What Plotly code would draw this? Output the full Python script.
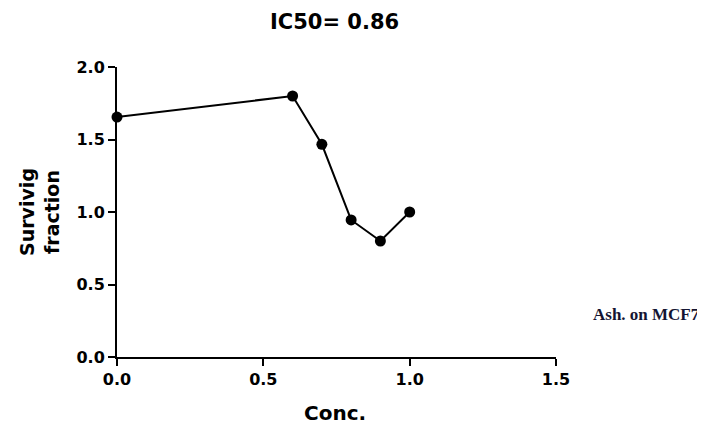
import plotly.graph_objects as go

conc = [0.0, 0.6, 0.7, 0.8, 0.9, 1.0]
surviving = [1.655, 1.80, 1.467, 0.945, 0.80, 1.0]
x_ticks = [0.0, 0.5, 1.0, 1.5]
x_tick_labels = ["0.0", "0.5", "1.0", "1.5"]
y_ticks = [0.0, 0.5, 1.0, 1.5, 2.0]
y_tick_labels = ["0.0", "0.5", "1.0", "1.5", "2.0"]

font_sans = "DejaVu Sans, Arial, sans-serif"

fig = go.Figure()
fig.add_trace(go.Scatter(
    x=conc, y=surviving, mode="lines+markers",
    line=dict(color="black", width=2),
    marker=dict(color="black", size=11, symbol="circle"),
    cliponaxis=False, showlegend=False,
))

axis_common = dict(
    showline=True, linecolor="black", linewidth=2,
    ticks="outside", ticklen=7, tickwidth=2, tickcolor="black",
    showgrid=False, zeroline=False,
    tickfont=dict(family=font_sans, size=16, color="black", weight="bold"),
)

fig.update_layout(
    width=697, height=419,
    margin=dict(l=109, r=149, t=59, b=70),
    plot_bgcolor="white", paper_bgcolor="white",
    xaxis=dict(range=[0, 1.5], tickvals=x_ticks, ticktext=x_tick_labels, **axis_common),
    yaxis=dict(range=[0, 2.0], tickvals=y_ticks, ticktext=y_tick_labels, **axis_common),
    annotations=[
        dict(text="IC50= 0.86", xref="paper", yref="paper", x=0.496, y=1.0,
             yshift=45, xanchor="center", yanchor="middle", showarrow=False,
             font=dict(family=font_sans, size=21, color="black", weight="bold")),
        dict(text="Conc.", xref="paper", yref="paper", x=0.497, y=0,
             yshift=-56, xanchor="center", yanchor="middle", showarrow=False,
             font=dict(family=font_sans, size=20, color="black", weight="bold")),
        dict(text="Survivig<br>fraction", xref="paper", yref="paper", x=0, y=0.5,
             xshift=-78, xanchor="center", yanchor="middle", showarrow=False,
             textangle=-90,
             font=dict(family=font_sans, size=19, color="black", weight="bold")),
        dict(text="Ash. on MCF7", xref="paper", yref="paper", x=1.0, y=0,
             xshift=146, yshift=43, xanchor="right", yanchor="middle", showarrow=False,
             font=dict(family="Liberation Serif, Times New Roman, serif", size=17,
                       color="#141432", weight="bold")),
    ],
)

fig.write_html("out.html")
